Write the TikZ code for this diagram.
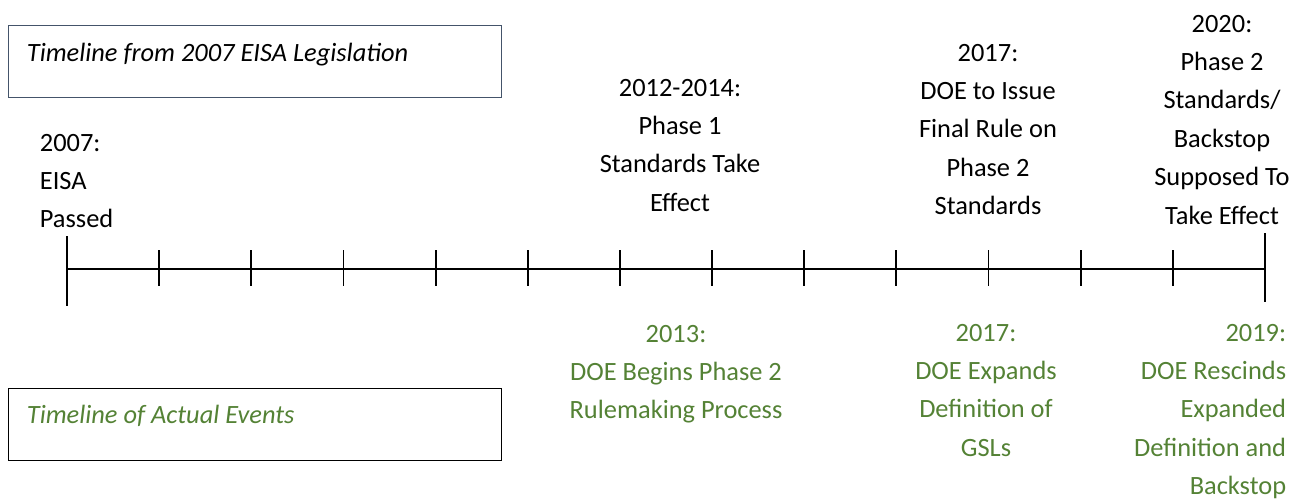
\documentclass[tikz,border=0pt]{standalone}
\usepackage{fontspec}
\setmainfont{Carlito}
\usetikzlibrary{positioning}
\definecolor{actualgreen}{RGB}{84,130,53}
\definecolor{boxframe}{RGB}{68,84,106}

\begin{document}
\begin{tikzpicture}[x=0.5pt,y=-0.5pt,line width=0.9pt,
  plan node/.style={align=center,anchor=north,inner sep=0pt,font=\fontsize{13.2}{19.2}\selectfont},
  actual node/.style={plan node,text=actualgreen},
  key box/.style={draw,line width=0.7pt,anchor=north west,minimum width=246.5pt,minimum height=36pt,inner sep=0pt},
  key text/.style={anchor=west,inner sep=0pt,font=\fontsize{13.2}{15}\selectfont\itshape}]

  \useasboundingbox (0,0) rectangle (1308,500);

  % legend boxes
  \node[key box,draw=boxframe] (plan box) at (8,25) {};
  \node[key text] (plan key) at (26,55) {Timeline from 2007 EISA Legislation};
  \node[key box] (actual box) at (8,388) {};
  \node[key text,text=actualgreen] (actual key) at (26,416) {Timeline of Actual Events};

  % axis
  \coordinate (start) at (67,269);
  \coordinate (end) at (1265,269);
  \draw (start) -- (end);
  \draw (67,236) -- (67,306);
  \draw (1265,233) -- (1265,302);
  \foreach \i in {1,...,12}
    \draw (67+\i*92.15,250) -- (67+\i*92.15,286);

  % planned dates
  \node[plan node,anchor=north west,align=left] (p2007) at (39,133) {2007:\\EISA\\Passed};
  \node[plan node] (p2012) at (680,78) {2012-2014:\\Phase 1\\Standards Take\\Effect};
  \node[plan node] (p2017) at (988,43) {2017:\\DOE to Issue\\Final Rule on\\Phase 2\\Standards};
  \node[plan node] (p2020) at (1222,14) {2020:\\Phase 2\\Standards/\\Backstop\\Supposed To\\Take Effect};

  % actual events
  \node[actual node] (a2013) at (676,324) {2013:\\DOE Begins Phase 2\\Rulemaking Process};
  \node[actual node] (a2017) at (986,323) {2017:\\DOE Expands\\Definition of\\GSLs};
  \node[actual node,anchor=north east,align=right] (a2019) at (1287,323) {2019:\\DOE Rescinds\\Expanded\\Definition and\\Backstop};
\end{tikzpicture}
\end{document}
